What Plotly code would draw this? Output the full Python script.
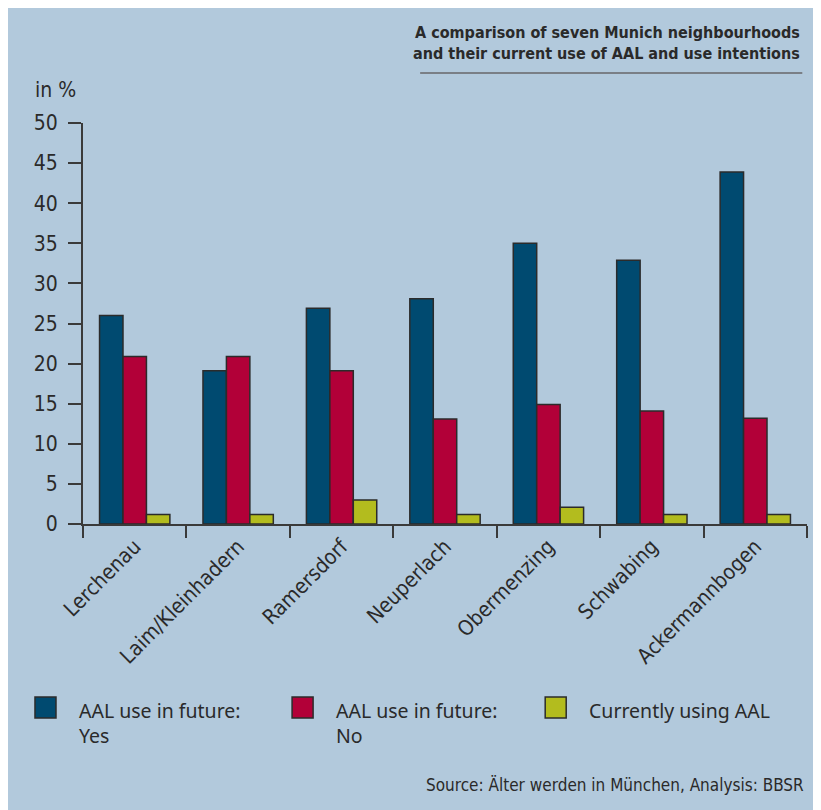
import plotly.graph_objects as go

categories = ["Lerchenau", "Laim/Kleinhadern", "Ramersdorf", "Neuperlach",
              "Obermenzing", "Schwabing", "Ackermannbogen"]
future_yes = [26.0, 19.1, 26.9, 28.1, 35.0, 32.9, 43.9]
future_no = [20.9, 20.9, 19.1, 13.1, 14.9, 14.1, 13.2]
currently = [1.2, 1.2, 3.0, 1.2, 2.1, 1.2, 1.2]
series_names = ["AAL use in future:<br>Yes", "AAL use in future:<br>No", "Currently using AAL"]
y_ticks = [0, 5, 10, 15, 20, 25, 30, 35, 40, 45, 50]

BG = "#b2c9dc"
COLORS = ["#004a70", "#b20038", "#b3bc1e"]
NARROW = "DejaVu Sans Condensed, Liberation Sans Narrow, sans-serif"
TXT = "#2a2a2a"

# plot area in reference-page pixels
PL, PR, PT, PB = 83.0, 806.7, 123.0, 524.0
OFF = 8  # page body margin


def px(x):
    return (x - PL) / (PR - PL)


def py(y):
    return (PB - y) / (PB - PT)


fig = go.Figure()
for vals, col, name in zip([future_yes, future_no, currently], COLORS, series_names):
    fig.add_trace(go.Bar(x=categories, y=vals, name=name,
                         marker=dict(color=col, line=dict(color="#2b2b2b", width=1.5)),
                         showlegend=False))

W, H = 821 - OFF, 810 - OFF
fig.update_layout(
    width=W, height=H,
    paper_bgcolor=BG, plot_bgcolor=BG,
    margin=dict(l=PL - OFF, r=W - (PR - OFF), t=PT - OFF, b=H - (PB - OFF), pad=0),
    barmode="group", bargap=0.32, bargroupgap=0,
    font=dict(family=NARROW, color=TXT),
    xaxis=dict(showgrid=False, showline=True, linecolor="#3a3a3a", linewidth=2,
               ticks="outside", tickson="boundaries", ticklen=12, tickwidth=2, tickcolor="#3a3a3a",
               tickangle=-45, tickfont=dict(size=21, family=NARROW, color=TXT)),
    yaxis=dict(range=[0, 50], tickvals=y_ticks, showgrid=False, zeroline=False, showline=True,
               linecolor="#3a3a3a", linewidth=2, ticks="outside", ticklen=13, tickwidth=2,
               tickcolor="#3a3a3a", ticklabelstandoff=6,
               tickfont=dict(size=21, family=NARROW, color=TXT)),
)

# Title
fig.add_annotation(text="<b>A comparison of seven Munich neighbourhoods<br>and their current use of AAL and use intentions</b>",
                   xref="paper", yref="paper", x=px(802), y=py(42.5), xanchor="right", yanchor="middle",
                   align="right", showarrow=False, font=dict(size=16, family=NARROW, color=TXT))
fig.add_shape(type="line", xref="paper", yref="paper",
              x0=px(420), x1=px(802), y0=py(73), y1=py(73), line=dict(color="#7a7f86", width=2))
# y axis unit
fig.add_annotation(text="in %", xref="paper", yref="paper", x=px(33), y=py(90),
                   xanchor="left", yanchor="middle", showarrow=False,
                   font=dict(size=21, family=NARROW, color=TXT))

# Legend
leg_sq = [35, 292, 545]
leg_tx = [77, 334, 587]
LEGF = "Noto Sans, Open Sans, sans-serif"
for sx, tx, col, name in zip(leg_sq, leg_tx, COLORS, series_names):
    fig.add_shape(type="rect", xref="paper", yref="paper",
                  x0=px(sx), x1=px(sx + 21), y0=py(697), y1=py(718),
                  fillcolor=col, line=dict(color="#2b2b2b", width=1.5))
    fig.add_annotation(text=name, xref="paper", yref="paper", x=px(tx), y=py(695),
                       xanchor="left", yanchor="top", align="left", showarrow=False,
                       font=dict(size=19.5, family=LEGF, color=TXT))

# Source
fig.add_annotation(text="Source: Älter werden in München, Analysis: BBSR", xref="paper", yref="paper",
                   x=px(806), y=py(785), xanchor="right", yanchor="middle", showarrow=False,
                   font=dict(size=17, family=NARROW, color=TXT))

fig.write_html("out.html")
